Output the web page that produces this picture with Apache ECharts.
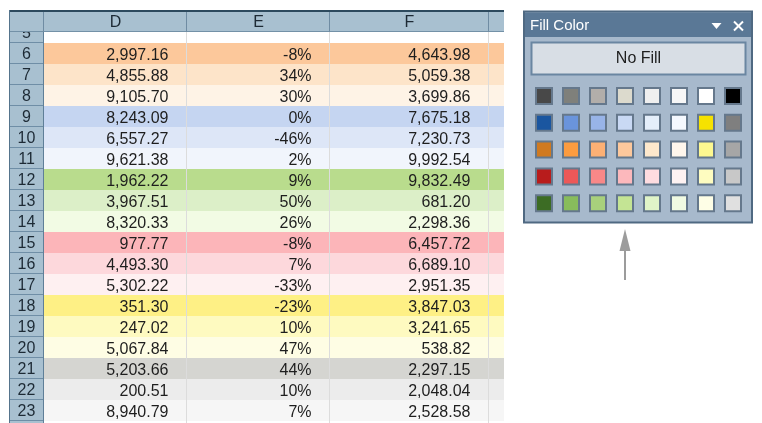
<!DOCTYPE html>
<html>
<head>
<meta charset="utf-8">
<script src="https://cdn.jsdelivr.net/npm/echarts@6/dist/echarts.min.js"></script>
<style>html,body{margin:0;padding:0;background:#fff}#c{width:762px;height:423px}</style>
</head>
<body>
<div id="c"></div>
<script>
// ---------- DATA ----------
const columnNames = ['D', 'E', 'F', 'G'];
const rowNumbers = [5, 6, 7, 8, 9, 10, 11, 12, 13, 14, 15, 16, 17, 18, 19, 20, 21, 22, 23, 24];
const valuesD = [null, 2997.16, 4855.88, 9105.70, 8243.09, 6557.27, 9621.38, 1962.22, 3967.51, 8320.33, 977.77, 4493.30, 5302.22, 351.30, 247.02, 5067.84, 5203.66, 200.51, 8940.79, null];
const valuesE = [null, -0.08, 0.34, 0.30, 0.00, -0.46, 0.02, 0.09, 0.50, 0.26, -0.08, 0.07, -0.33, -0.23, 0.10, 0.47, 0.44, 0.10, 0.07, null];
const valuesF = [null, 4643.98, 5059.38, 3699.86, 7675.18, 7230.73, 9992.54, 9832.49, 681.20, 2298.36, 6457.72, 6689.10, 2951.35, 3847.03, 3241.65, 538.82, 2297.15, 2048.04, 2528.58, null];
const paletteRow1 = ['#484848', '#7f807b', '#b2aeaa', '#dcdacd', '#efefef', '#f7f7f7', '#ffffff', '#000000'];
const paletteRow2 = ['#1a56a0', '#6a94dc', '#98b4e8', '#c9d9f4', '#e4eefa', '#f4f8fe', '#f6e200', '#7f7f7f'];
const paletteRow3 = ['#d07a20', '#fc9c40', '#fcb074', '#fdc89c', '#fde8cc', '#fef6ec', '#fdf890', '#a6a6a6'];
const paletteRow4 = ['#b81c1c', '#ec5858', '#f88888', '#fcb8bc', '#fedce0', '#fef2f2', '#fefcc0', '#c8c8c8'];
const paletteRow5 = ['#3c6c24', '#88bc5c', '#a8d07c', '#c4e494', '#e0f4c8', '#f0fae2', '#fefee6', '#e0e0e0'];

// ---------- STYLE / LAYOUT ----------
const rowFills = ['#ffffff', '#fcc89b', '#fde4c9', '#fef3e6', '#c5d5f1', '#dde6f7', '#f1f5fc', '#b9dc8d', '#dcefc8', '#f2fbe4', '#fcb5b9', '#fdd8dc', '#fef0f1', '#fef085', '#fefac0', '#fefde4', '#d5d5d1', '#ececec', '#f6f6f6', '#ffffff'];
const colWidths = [35, 143, 143, 159, 60];
const colEdges = colWidths.reduce((a, w) => { a.push(a[a.length - 1] + w); return a; }, [0]);
const FONT = '16px "Liberation Sans", Arial, sans-serif';
const HDR_BG = '#a8c0d0';
const HDR_LINE = '#6f8ea6';

function fmt2(v) {
  const s = Math.abs(v).toFixed(2);
  const parts = s.split('.');
  return (v < 0 ? '-' : '') + parts[0].replace(/\B(?=(\d{3})+(?!\d))/g, ',') + '.' + parts[1];
}
function fmtPct(v) { return Math.round(v * 100) + '%'; }

function cellText(c, i) {
  if (c === 1 && valuesD[i] != null) return fmt2(valuesD[i]);
  if (c === 2 && valuesE[i] != null) return fmtPct(valuesE[i]);
  if (c === 3 && valuesF[i] != null) return fmt2(valuesF[i]);
  return '';
}

const bodyData = [];
rowNumbers.forEach((r, i) => { for (let c = 0; c < colWidths.length; c++) bodyData.push([c, r, i]); });

function renderBody(params, api) {
  const c = api.value(0), r = api.value(1), i = api.value(2);
  const p0 = api.coord([colEdges[c], r]);
  const p1 = api.coord([colEdges[c + 1], r + 1]);
  const x = p0[0], y = p0[1], w = p1[0] - p0[0], h = p1[1] - p0[1];
  const children = [];
  if (c === 0) {
    children.push({ type: 'rect', shape: { x: x, y: y, width: w, height: h }, style: { fill: HDR_BG } });
    children.push({ type: 'line', shape: { x1: x, y1: y + h - 0.5, x2: x + w, y2: y + h - 0.5 }, style: { stroke: HDR_LINE, lineWidth: 1 } });
    children.push({ type: 'line', shape: { x1: x + w - 0.5, y1: y, x2: x + w - 0.5, y2: y + h }, style: { stroke: '#5f7f98', lineWidth: 1 } });
    children.push({ type: 'line', shape: { x1: x + 0.5, y1: y, x2: x + 0.5, y2: y + h }, style: { stroke: '#55748c', lineWidth: 1 } });
    children.push({ type: 'text', style: { x: x + w / 2, y: y + h / 2 + 1.5, text: String(r), font: FONT, fill: '#1d2a35', align: 'center', verticalAlign: 'middle', textAlign: 'center', textVerticalAlign: 'middle' } });
  } else {
    children.push({ type: 'rect', shape: { x: x, y: y, width: w, height: h }, style: { fill: rowFills[i] } });
    children.push({ type: 'line', shape: { x1: x + w - 0.5, y1: y, x2: x + w - 0.5, y2: y + h }, style: { stroke: '#dcdcdc', lineWidth: 1 } });
    const t = cellText(c, i);
    if (t) children.push({ type: 'text', style: { x: x + w - 18.5, y: y + h / 2 + 2, text: t, font: FONT, fill: '#1e1e1e', align: 'right', verticalAlign: 'middle', textAlign: 'right', textVerticalAlign: 'middle' } });
  }
  return { type: 'group', children: children };
}

function renderHeader(params, api) {
  const c = api.value(0);
  const p0 = api.coord([colEdges[c], 1]);
  const p1 = api.coord([colEdges[c + 1], 0]);
  const x = p0[0], y = p0[1], w = p1[0] - p0[0], h = p1[1] - p0[1];
  const children = [
    { type: 'rect', shape: { x: x, y: y, width: w, height: h }, style: { fill: HDR_BG } },
    { type: 'line', shape: { x1: x, y1: y + 1, x2: x + w, y2: y + 1 }, style: { stroke: '#2d4a5e', lineWidth: 2 } },
    { type: 'line', shape: { x1: x, y1: y + h - 0.5, x2: x + w, y2: y + h - 0.5 }, style: { stroke: '#7391a7', lineWidth: 1 } },
    { type: 'line', shape: { x1: x + w - 0.5, y1: y + 2, x2: x + w - 0.5, y2: y + h }, style: { stroke: '#6f8ca3', lineWidth: 1 } }
  ];
  if (c === 0) children.push({ type: 'line', shape: { x1: x + 0.5, y1: y, x2: x + 0.5, y2: y + h }, style: { stroke: '#55748c', lineWidth: 1 } });
  if (c > 0 && c <= 3) children.push({ type: 'text', style: { x: x + w / 2, y: y + h / 2 + 1.5, text: columnNames[c - 1], font: FONT, fill: '#1d2a35', align: 'center', verticalAlign: 'middle', textAlign: 'center', textVerticalAlign: 'middle' } });
  return { type: 'group', children: children };
}

const paletteRows = [paletteRow1, paletteRow2, paletteRow3, paletteRow4, paletteRow5];
const swatchData = [];
paletteRows.forEach((row, ri) => row.forEach((col, ci) => swatchData.push({ value: [ci, ri], itemStyle: { color: col } })));

const chart = echarts.init(document.getElementById('c'), null, { renderer: 'canvas' });
chart.setOption({
  animation: false,
  backgroundColor: '#ffffff',
  grid: [
    { left: 9, top: 32, width: 495, height: 391 },
    { left: 9, top: 10, width: 495, height: 22 },
    { left: 530.5, top: 82.6, width: 216, height: 134 }
  ],
  xAxis: [
    { gridIndex: 0, type: 'value', min: 0, max: 495, show: false },
    { gridIndex: 1, type: 'value', min: 0, max: 495, show: false },
    { gridIndex: 2, type: 'category', data: ['1', '2', '3', '4', '5', '6', '7', '8'], show: false }
  ],
  yAxis: [
    { gridIndex: 0, type: 'value', inverse: true, min: 6 - 11 / 21, max: 6 - 11 / 21 + 391 / 21, show: false },
    { gridIndex: 1, type: 'value', min: 0, max: 1, show: false },
    { gridIndex: 2, type: 'category', inverse: true, data: ['1', '2', '3', '4', '5'], show: false }
  ],
  graphic: [
    // fill color panel frame
    { type: 'rect', z: 0, shape: { x: 524, y: 11.5, width: 228, height: 211 }, style: { fill: '#a7b9cc', stroke: '#4f6982', lineWidth: 2 } },
    { type: 'rect', z: 0, shape: { x: 525, y: 12.5, width: 226, height: 24.5 }, style: { fill: '#5a7896' } },
    { type: 'text', z: 1, style: { x: 530, y: 25.5, text: 'Fill Color', font: '15px "Liberation Sans", Arial, sans-serif', fill: '#ffffff', verticalAlign: 'middle', textVerticalAlign: 'middle' } },
    { type: 'polygon', z: 1, shape: { points: [[711.5, 23], [721.5, 23], [716.5, 29]] }, style: { fill: '#ffffff' } },
    { type: 'line', z: 1, shape: { x1: 734, y1: 21.5, x2: 743, y2: 30.5 }, style: { stroke: '#ffffff', lineWidth: 2 } },
    { type: 'line', z: 1, shape: { x1: 743, y1: 21.5, x2: 734, y2: 30.5 }, style: { stroke: '#ffffff', lineWidth: 2 } },
    { type: 'rect', z: 1, shape: { x: 531.5, y: 42.5, width: 214, height: 32 }, style: { fill: '#d8dee5', stroke: '#6a86a1', lineWidth: 2 } },
    { type: 'text', z: 2, style: { x: 638.5, y: 59, text: 'No Fill', font: '16px "Liberation Sans", Arial, sans-serif', fill: '#1e1e1e', align: 'center', verticalAlign: 'middle', textAlign: 'center', textVerticalAlign: 'middle' } },
    // arrow
    { type: 'line', z: 1, shape: { x1: 625, y1: 248, x2: 625, y2: 280 }, style: { stroke: '#9c9c9c', lineWidth: 2 } },
    { type: 'polygon', z: 1, shape: { points: [[625, 229], [630.5, 251], [619.5, 251]] }, style: { fill: '#9c9c9c' } }
  ],
  series: [
    { type: 'custom', xAxisIndex: 0, yAxisIndex: 0, clip: true, renderItem: renderBody, data: bodyData, z: 2 },
    { type: 'custom', xAxisIndex: 1, yAxisIndex: 1, clip: true, renderItem: renderHeader, data: [[0], [1], [2], [3], [4]], z: 3 },
    { type: 'scatter', xAxisIndex: 2, yAxisIndex: 2, symbol: 'rect', symbolSize: 16, data: swatchData, z: 5,
      itemStyle: { borderColor: '#65788c', borderWidth: 2, opacity: 1 }, emphasis: { disabled: true } }
  ]
});
</script>
</body>
</html>
